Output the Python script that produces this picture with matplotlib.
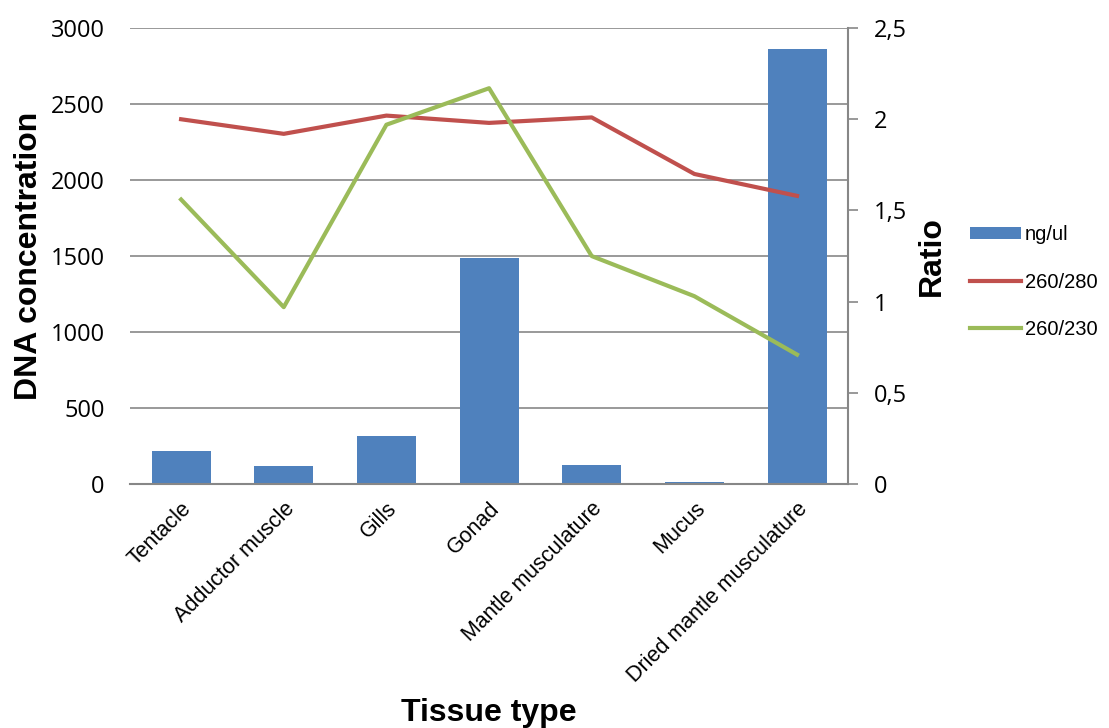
import matplotlib.pyplot as plt
from matplotlib.ticker import FuncFormatter

plt.rcParams['font.family'] = ['Liberation Sans', 'DejaVu Sans']

tissues = ['Tentacle', 'Adductor muscle', 'Gills', 'Gonad', 'Mantle musculature',
           'Mucus', 'Dried mantle musculature']
ng_ul = [217, 118, 316, 1487, 125, 13, 2862]
r260_280 = [2.00, 1.92, 2.02, 1.98, 2.01, 1.70, 1.58]
r260_230 = [1.56, 0.97, 1.97, 2.17, 1.25, 1.03, 0.71]

grey = '#878787'
tick_font = {'family': 'Open Sans', 'size': 17}

fig = plt.figure(figsize=(11.09, 7.28), dpi=100)
ax = fig.add_axes([0.117, 0.335, 0.648, 0.6265])
x = range(len(tissues))

bars = ax.bar(x, ng_ul, width=0.575, color='#4F81BD', label='ng/ul', zorder=2)
ax.set_ylim(0, 3000)
ax.set_yticks(range(0, 3001, 500))
ax.set_xlim(-0.5, len(tissues) - 0.5)
ax.yaxis.grid(True, color=grey, linewidth=1.2, zorder=0)
ax.set_xticks(list(x))
ax.set_xticklabels(tissues, rotation=45, ha='right', rotation_mode='anchor', fontsize=15.5)
for lab in ax.get_yticklabels():
    lab.set_fontproperties(tick_font)
ax.tick_params(axis='y', length=0, pad=18)
ax.tick_params(axis='x', length=0, pad=10)
for s in ['top', 'left', 'right']:
    ax.spines[s].set_visible(False)
ax.spines['bottom'].set_color(grey)
ax.spines['bottom'].set_linewidth(1.5)
ax.set_ylabel('DNA concentration', fontsize=23, fontweight='bold')
ax.yaxis.set_label_coords(-0.119, 0.5)
ax.set_xlabel('Tissue type', fontsize=23, fontweight='bold')
ax.xaxis.set_label_coords(0.5, -0.47)

ax2 = ax.twinx()
l1, = ax2.plot(x, r260_280, color='#C0504D', linewidth=3, label='260/280')
l2, = ax2.plot(x, r260_230, color='#9BBB59', linewidth=3, label='260/230')
ax2.set_ylim(0, 2.5)
ax2.set_yticks([0, 0.5, 1, 1.5, 2, 2.5])
ax2.yaxis.set_major_formatter(FuncFormatter(lambda v, p: f'{v:g}'.replace('.', ',')))
for lab in ax2.get_yticklabels():
    lab.set_fontproperties(tick_font)
ax2.tick_params(axis='y', length=7, width=1.2, color=grey, pad=11)
for s in ['top', 'left', 'bottom']:
    ax2.spines[s].set_visible(False)
ax2.spines['right'].set_color(grey)
ax2.spines['right'].set_linewidth(1.5)
ax2.set_ylabel('Ratio', fontsize=23, fontweight='bold')
ax2.yaxis.set_label_coords(1.095, 0.5)

fig.legend([bars, l1, l2], ['ng/ul', '260/280', '260/230'], loc='center left',
           bbox_to_anchor=(0.8585, 0.6126), frameon=False, fontsize=14.5,
           handlelength=2.5, handleheight=0.55, labelspacing=1.4, handletextpad=0.2)

fig.savefig('out.png', dpi=100)
